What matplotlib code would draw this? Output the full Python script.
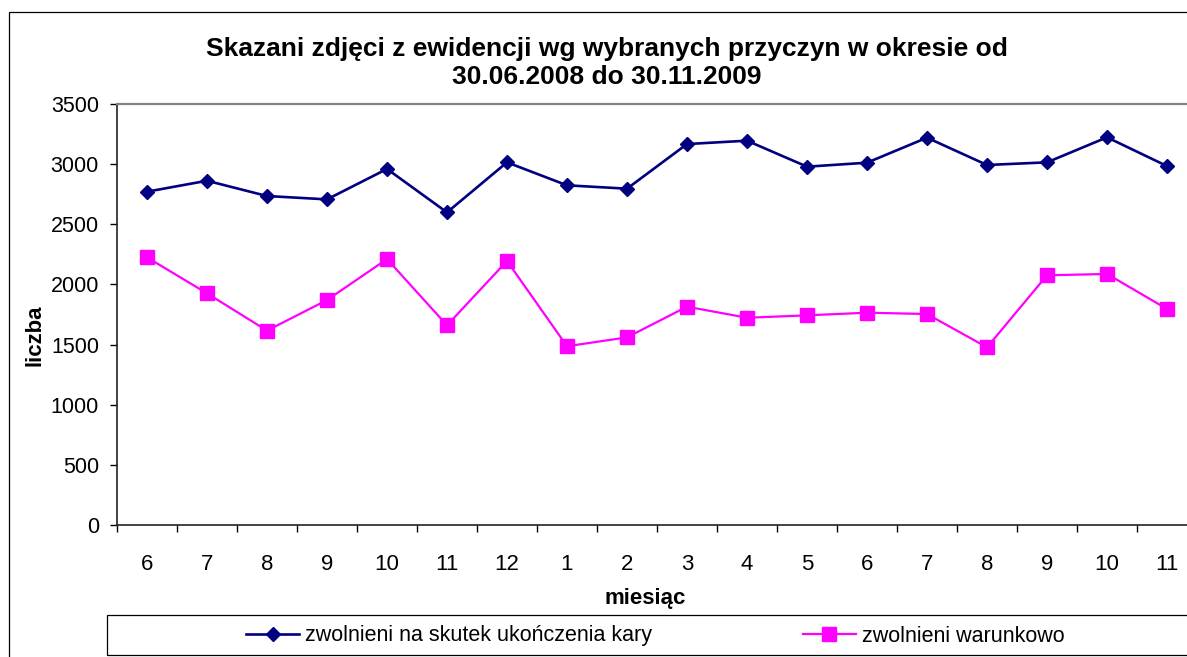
import matplotlib
matplotlib.use('Agg')
import matplotlib.pyplot as plt
from matplotlib.patches import Rectangle

plt.rcParams['font.family'] = ['Liberation Sans', 'DejaVu Sans']

# data
months = ['6', '7', '8', '9', '10', '11', '12', '1', '2', '3', '4', '5',
          '6', '7', '8', '9', '10', '11']
ukonczenie_kary = [2771, 2862, 2735, 2707, 2960, 2599, 3015, 2824, 2796,
                   3167, 3195, 2979, 3012, 3220, 2993, 3015, 3223, 2984]
warunkowo = [2225, 1926, 1616, 1870, 2211, 1660, 2195, 1486, 1560,
             1815, 1723, 1743, 1765, 1754, 1477, 2076, 2087, 1796]
yticks = [0, 500, 1000, 1500, 2000, 2500, 3000, 3500]

W, H = 1187, 657
fs = 16
fig = plt.figure(figsize=(W / 100, H / 100), dpi=100)

# outer chart border (cut off on the right / bottom like the original)
fig.patches.append(Rectangle((9 / W, -0.1), 1.2, 1 - 12 / H + 0.1,
                             transform=fig.transFigure, fill=False,
                             edgecolor='black', lw=0.9))

ax = fig.add_axes([117 / W, 1 - 525 / H, 1080 / W, 421 / H])
x = list(range(len(months)))

ax.plot(x, ukonczenie_kary, color='#000080', lw=1.9, marker='D', ms=6.8,
        label='zwolnieni na skutek ukończenia kary')
ax.plot(x, warunkowo, color='#FF00FF', lw=1.6, marker='s', ms=10,
        label='zwolnieni warunkowo')

ax.set_xlim(-0.5, len(months) - 0.5)
ax.set_ylim(0, 3500)
ax.set_yticks(yticks)
ax.tick_params(axis='y', direction='out', length=5, width=1, labelsize=fs - 0.5, pad=8)
ax.set_xticks(x)
ax.set_xticklabels(months)
ax.set_xticks([i - 0.5 for i in x], minor=True)
ax.tick_params(axis='x', which='major', length=0, labelsize=fs, pad=21)
ax.tick_params(axis='x', which='minor', direction='out', length=5, width=1)

for s in ['top', 'right']:
    ax.spines[s].set_color('#808080')
    ax.spines[s].set_linewidth(1.6)
for s in ['left', 'bottom']:
    ax.spines[s].set_color('#222222')
    ax.spines[s].set_linewidth(1.2)

ax.set_xlabel('miesiąc', fontsize=fs, fontweight='bold')
ax.set_ylabel('liczba', fontsize=fs, fontweight='bold')
ax.yaxis.set_label_coords(-0.066, 0.451)
ax.xaxis.set_label_coords(0.489, -0.15)

fig.text(607 / W, 1 - 63 / H,
         'Skazani zdjęci z ewidencji wg wybranych przyczyn w okresie od\n30.06.2008 do 30.11.2009',
         ha='center', va='center', fontsize=19, fontweight='bold', linespacing=1.25)

# legend box
fig.patches.append(Rectangle((107 / W, 1 - 655 / H), 1.2, 40 / H,
                             transform=fig.transFigure, fill=False,
                             edgecolor='black', lw=0.9))
fig.legend(loc='center', bbox_to_anchor=(655 / W, 1 - 636 / H), ncol=2,
           frameon=False, fontsize=fs - 0.5, handlelength=2.5, columnspacing=7.0,
           handletextpad=0.25)

fig.savefig('out.png', dpi=100)
